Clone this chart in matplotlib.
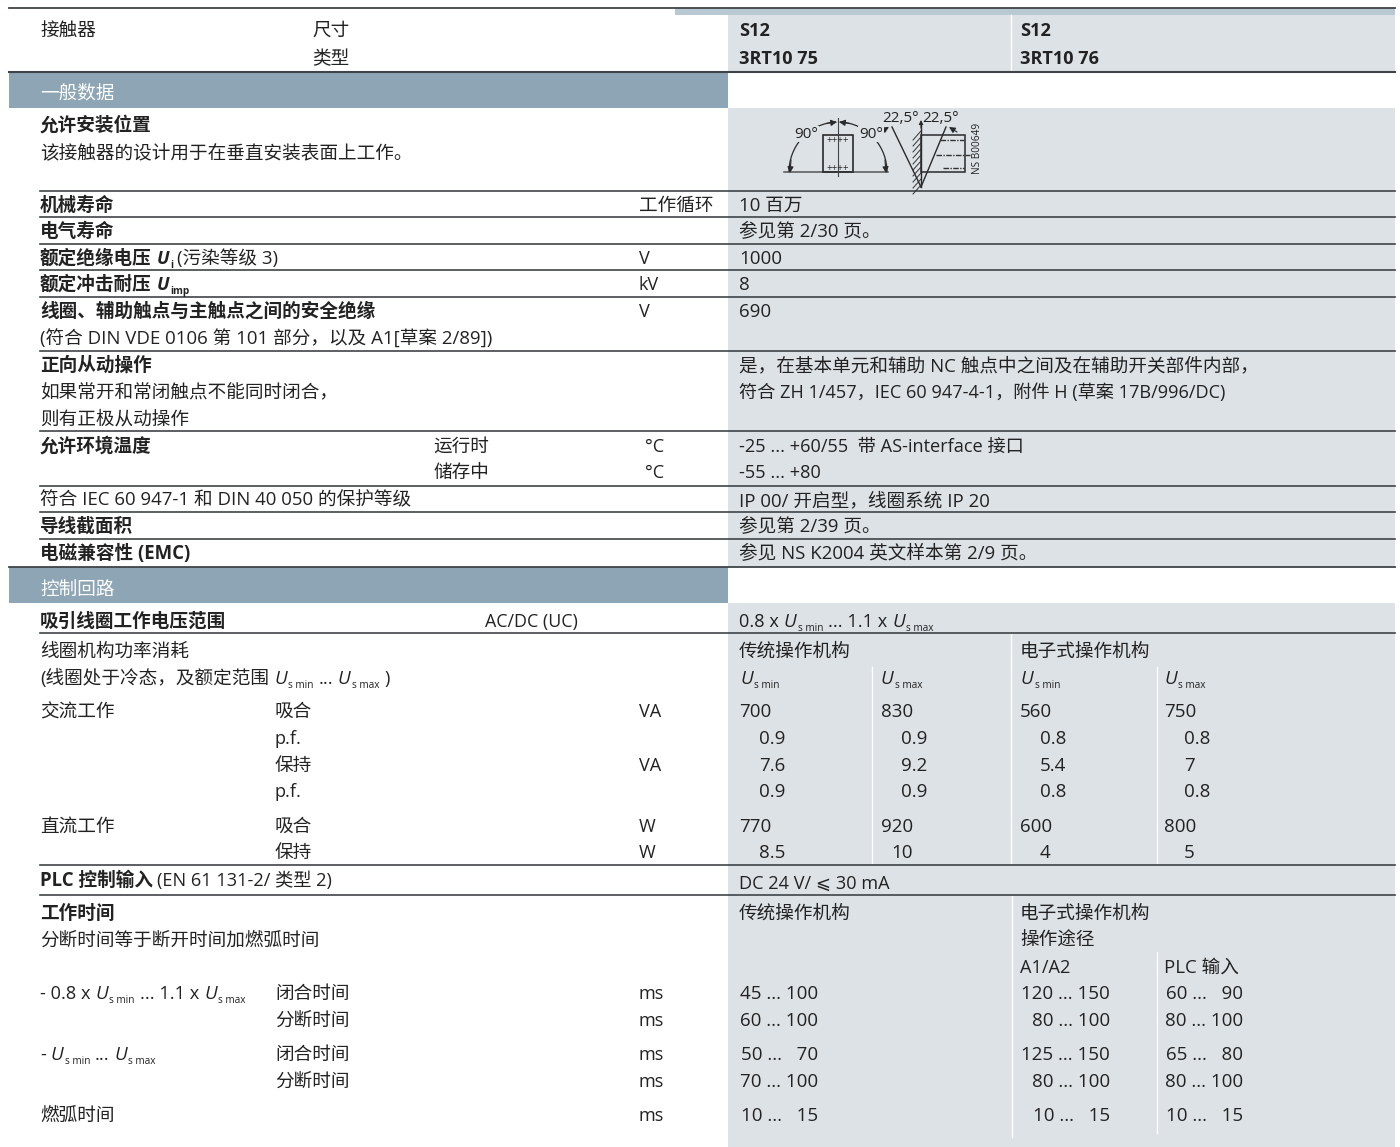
import re
import matplotlib
matplotlib.use('Agg')
import matplotlib.pyplot as plt
from matplotlib.patches import Arc, Rectangle

plt.rcParams['font.family'] = ['Open Sans', 'Noto Sans CJK SC', 'DejaVu Sans']
FS = 13.1
INK = '#222222'
BAND = '#8da5b4'
PANEL = '#dde2e6'
TOPBAND = '#b8c9d4'
RULE = '#3f4448'

# header
header_left = ['接触器', '尺寸', '类型']
header_sizes = ['S12', 'S12']
header_types = ['3RT10 75', '3RT10 76']
sections = ['一般数据', '控制回路']

# general data
bold_labels = ['允许安装位置', '机械寿命', '电气寿命', '线圈、辅助触点与主触点之间的安全绝缘', '正向从动操作',
               '允许环境温度', '导线截面积', '电磁兼容性 (EMC)', '吸引线圈工作电压范围', '工作时间']
plain_labels = ['该接触器的设计用于在垂直安装表面上工作。', '(符合 DIN VDE 0106 第 101 部分，以及 A1[草案 2/89])',
                '如果常开和常闭触点不能同时闭合，', '则有正极从动操作', '符合 IEC 60 947-1 和 DIN 40 050 的保护等级',
                '线圈机构功率消耗', '分断时间等于断开时间加燃弧时间']
general_units = ['工作循环', 'V', 'kV', 'V', '°C', '°C']
general_values = ['10 百万', '参见第 2/30 页。', '1000', '8', '690',
                  '是，在基本单元和辅助 NC 触点中之间及在辅助开关部件内部，',
                  '符合 ZH 1/457，IEC 60 947-4-1，附件 H (草案 17B/996/DC)',
                  '-25 ... +60/55  带 AS-interface 接口', '-55 ... +80',
                  'IP 00/ 开启型，线圈系统 IP 20', '参见第 2/39 页。', '参见 NS K2004 英文样本第 2/9 页。']
temp_labels = ['运行时', '储存中']

# coil power
mech_names = ['传统操作机构', '电子式操作机构']
duty_names = ['交流工作', '直流工作']
power_labels = ['吸合', 'p.f.', '保持', 'p.f.', '吸合', '保持']
power_units = ['VA', '', 'VA', '', 'W', 'W']
conv_min = ['700', '0.9', '7.6', '0.9', '770', '8.5']
conv_max = ['830', '0.9', '9.2', '0.9', '920', '10']
elec_min = ['560', '0.8', '5.4', '0.8', '600', '4']
elec_max = ['750', '0.8', '7', '0.8', '800', '5']

# operating times
time_labels = ['闭合时间', '分断时间', '闭合时间', '分断时间']
time_conv = ['45 ... 100', '60 ... 100', '50 ...   70', '70 ... 100', '10 ...   15']
time_a1a2 = ['120 ... 150', '80 ... 100', '125 ... 150', '80 ... 100', '10 ...   15']
time_plc = ['60 ...   90', '80 ... 100', '65 ...   80', '80 ... 100', '10 ...   15']

fig = plt.figure(figsize=(14, 11.47), dpi=100)
ax = fig.add_axes([0, 0, 1, 1])
ax.set_xlim(0, 1400)
ax.set_ylim(1147, 0)
ax.axis('off')
rend = fig.canvas.get_renderer()


def rect(x0, y0, x1, y1, c):
    ax.add_patch(Rectangle((x0, y0), x1 - x0, y1 - y0, fc=c, ec='none', zorder=0))


def size_for(s):
    # the chinese glyphs and the digits run a bit wider than the latin text
    if re.fullmatch(r'[\d. ]+', s):
        return 13.5
    cjk = len(re.findall(r'[\u3000-\u9fff\uff00-\uffef]', s))
    return 13.4 if cjk >= 0.2 * len(s) else FS


def txt(x, y, s, **kw):
    kw.setdefault('fontsize', size_for(s))
    kw.setdefault('color', INK)
    return ax.text(x, y + 7, s, va='baseline', **kw)


def runs(x, y, parts):
    # mixed text: n normal, i italic U, s subscript
    for k, (s, kind) in enumerate(parts):
        if kind == 's':
            t = ax.text(x, y + 11, s, fontsize=7.2, color=INK, va='baseline')
        elif kind == 'i':
            t = txt(x, y, s, style='italic', fontsize=13.5)
        else:
            t = txt(x, y, s)
        x += t.get_window_extent(rend).width + (1 if kind == 'i' else 5)


# backgrounds
rect(675, 8, 1395, 15, TOPBAND)
rect(728, 15, 1395, 72, PANEL)
rect(9, 73, 728, 108, BAND)
rect(728, 108, 1395, 567, PANEL)
rect(9, 567, 728, 603, BAND)
rect(728, 603, 1395, 1147, PANEL)

# white separators
for x, y0, y1 in [(1011, 15, 71), (872, 667, 863), (1011, 634, 863), (1157, 667, 863),
                  (1012, 896, 1137), (1157, 952, 1133)]:
    ax.plot([x, x], [y0, y1], color='white', lw=1, zorder=1)

# rules
for y, lw in [(8, 1.3), (72, 1.5), (567, 1.3)]:
    ax.plot([9, 1395], [y, y], color=RULE, lw=lw, zorder=2)
rule_ys = [191, 217, 243.5, 270, 297, 351, 431, 486, 512, 539, 633, 865, 895]
for y in rule_ys:
    ax.plot([40, 1395], [y, y], color=RULE, lw=1.2, zorder=2)

# header
for s, x, y in zip(header_left, [40, 312, 312], [29, 29, 57]):
    txt(x, y, s)
for s, x in zip(header_sizes, [739, 1020]):
    txt(x, 29, s, weight='bold')
for s, x in zip(header_types, [739, 1020]):
    txt(x, 57, s, weight='bold')
for s, y in zip(sections, [91, 588]):
    txt(40, y, s, color='white')

# left column
for s, y in zip(bold_labels, [124, 204, 230, 310, 364, 445, 525, 552, 620, 912]):
    txt(40, y, s, weight='bold')
for s, y in zip(plain_labels, [151, 338, 391, 418, 498, 650, 939]):
    txt(40, y, s)

# rated voltage rows, the subscripts need their own pieces
for y, head, sym, sub, tail in [(257, '额定绝缘电压', 'U', 'i', '(污染等级 3)'), (283, '额定冲击耐压', 'U', 'imp', '')]:
    t = txt(40, y, head, weight='bold')
    x = t.get_window_extent(rend).x1 + 5
    t = txt(x, y, sym, weight='bold', style='italic')
    x = t.get_window_extent(rend).x1 + 1
    t = ax.text(x, y + 11, sub, fontsize=7.2, color=INK, va='baseline', weight='bold')
    x = t.get_window_extent(rend).x1 + 4
    if tail:
        txt(x, y, tail)
t = txt(40, 879, 'PLC 控制输入', weight='bold')
txt(t.get_window_extent(rend).x1 + 4, 879, '(EN 61 131-2/ 类型 2)')
txt(485, 620, 'AC/DC (UC)', fontsize=12.9)

runs(40, 677, [('(线圈处于冷态，及额定范围', 'n'), ('U', 'i'), ('s min', 's'), ('...', 'n'), ('U', 'i'), ('s max', 's'), (')', 'n')])
runs(40, 992, [('- 0.8 x', 'n'), ('U', 'i'), ('s min', 's'), ('... 1.1 x', 'n'), ('U', 'i'), ('s max', 's')])
runs(40, 1053, [('-', 'n'), ('U', 'i'), ('s min', 's'), ('...', 'n'), ('U', 'i'), ('s max', 's')])
txt(40, 1114, '燃弧时间')

# units and values of the general block
for s, x, y in zip(general_units, [639, 639, 639, 639, 645, 645], [204, 257, 283, 310, 445, 471]):
    txt(x, y, s)
for s, y in zip(general_values, [204, 230, 257, 283, 310, 364, 391, 445, 471, 499, 525, 552]):
    txt(739, y, s)
for s, y in zip(temp_labels, [445, 471]):
    txt(433, y, s)

runs(739, 620, [('0.8 x', 'n'), ('U', 'i'), ('s min', 's'), ('... 1.1 x', 'n'), ('U', 'i'), ('s max', 's')])
txt(739, 882, 'DC 24 V/ ⩽ 30 mA', family=['Open Sans', 'DejaVu Sans'])

# coil power table
for s, x in zip(mech_names, [739, 1020]):
    txt(x, 650, s)
for x, sub in [(740, 's min'), (881, 's max'), (1021, 's min'), (1164, 's max')]:
    runs(x, 677, [('U', 'i'), (sub, 's')])
power_y = [710, 737, 764, 790, 825, 851]
for s, y in zip(duty_names, [710, 825]):
    txt(40, y, s)
for lab, unit, y in zip(power_labels, power_units, power_y):
    txt(275, y, lab)
    txt(639, y, unit)
for col, x in zip([conv_min, conv_max, elec_min, elec_max], [739, 881, 1020, 1164]):
    for v, y in zip(col, power_y):
        # whole part lines up on the last digit of the three digit values
        n = len(v.split('.')[0])
        txt(x + (3 - n) * 10, y, v)

# operating times table
txt(739, 912, mech_names[0])
txt(1020, 912, mech_names[1])
txt(1020, 939, '操作途径')
txt(1020, 966, 'A1/A2')
txt(1164, 966, 'PLC 输入')
time_y = [992, 1019, 1053, 1080, 1114]
for lab, y in zip(time_labels, time_y):
    txt(275, y, lab)
for y in time_y:
    txt(639, y, 'ms')
for col, xr in zip([time_conv, time_a1a2, time_plc], [818, 1110, 1243]):
    for s, y in zip(col, time_y):
        txt(xr, y, s, ha='right')

# mounting position sketch
dark = '#2a2a2a'
sk = dict(color=dark, lw=1, zorder=3)
arrow = dict(arrowstyle='-|>', lw=0.8, color=dark, mutation_scale=9, shrinkA=0, shrinkB=0)
ax.plot([784, 888], [172, 172], color='#555555', lw=1.1, zorder=3)
ax.add_patch(Rectangle((823, 135), 30, 37, fc='none', ec=dark, lw=1.2, zorder=3))
ax.plot([838, 838], [118, 176], color='#444444', lw=0.8, zorder=3)
for th0, th1 in [(180, 222), (222, 268), (272, 318), (318, 360)]:
    ax.add_patch(Arc((838, 172), 98, 100, theta1=th0, theta2=th1, color=dark, lw=0.9, zorder=3))
ax.annotate('', xy=(790, 173), xytext=(791, 160), arrowprops=arrow)
ax.annotate('', xy=(886, 173), xytext=(885, 160), arrowprops=arrow)
ax.annotate('', xy=(837, 122), xytext=(826, 123.5), arrowprops=arrow)
ax.annotate('', xy=(839, 122), xytext=(850, 123.5), arrowprops=arrow)
ax.text(806, 134, '90°', fontsize=11, color=INK, ha='center', va='center', zorder=4,
        bbox=dict(fc=PANEL, ec='none', pad=0.5))
ax.text(871, 134, '90°', fontsize=11, color=INK, ha='center', va='center', zorder=4,
        bbox=dict(fc=PANEL, ec='none', pad=0.5))
for yp in [141, 168]:
    ax.text(838, yp, '++++', fontsize=7, color=dark, ha='center', va='center', zorder=4)
ax.plot([921, 921], [123, 187], **sk)
ax.add_patch(Rectangle((921, 135), 44, 37, fc='none', ec=dark, lw=1.1, zorder=3))
ax.plot([921, 892], [187, 127], **sk)
ax.plot([921, 946], [187, 127], **sk)
for yh in range(131, 187, 6):
    ax.plot([921, 913], [yh, yh + 9], color='#333333', lw=0.7, zorder=3)
ax.plot([940, 964], [140, 140], color='#333333', lw=1, ls=(0, (4, 1, 1, 1)), zorder=3)
ax.plot([936, 970], [155, 155], color='#333333', lw=1, ls=(0, (4, 1, 1, 1)), zorder=3)
ax.plot([943, 964], [168, 168], color='#333333', lw=1, ls=(0, (4, 1, 1, 1)), zorder=3)
ax.annotate('', xy=(889, 127), xytext=(882, 131), arrowprops=arrow)
ax.annotate('', xy=(949, 127), xytext=(957, 132), arrowprops=arrow)
ax.annotate('', xy=(921, 120), xytext=(921, 128), arrowprops=dict(arrow, mutation_scale=6))
ax.text(901, 118, '22,5°', fontsize=11, color=INK, ha='center', va='center', zorder=4)
ax.text(941, 118, '22,5°', fontsize=11, color=INK, ha='center', va='center', zorder=4)
ax.text(977, 148, 'NS B00649', fontsize=7.2, color=INK, rotation=90, ha='center', va='center', zorder=4)

fig.savefig('out.png', dpi=100)
